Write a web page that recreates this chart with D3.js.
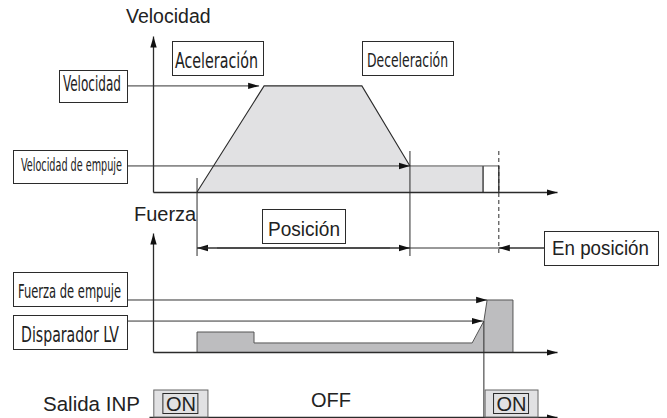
<!DOCTYPE html>
<html>
<head>
<meta charset="utf-8">
<script src="https://cdn.jsdelivr.net/npm/d3@7"></script>
<style>
  body { margin: 0; background: #fff; }
  svg text { font-family: "Liberation Sans", Arial, sans-serif; fill: #222; }
  svg text.cond { font-family: "Liberation Sans Narrow", "DejaVu Sans Condensed", "Liberation Sans", sans-serif; }
</style>
</head>
<body>
<svg id="chart" width="667" height="418"></svg>
<script>
// time axis in arbitrary units (0..100), speed / force in % of full scale

// speed profile: accelerate, run, decelerate, push at constant speed
const speedTimes = [10.9, 27.5, 51.7, 63.6, 81.7, 81.7];
const speedValues = [0, 68, 68, 16.7, 16.7, 0];
const maxSpeed = 68;
const pushSpeed = 16.7;

// force during the move and the push
const forceTimes = [10.9, 10.9, 25, 25, 79, 81.9, 82.7, 89.1, 89.1];
const forceValues = [0, 16.8, 16.8, 7.6, 7.6, 26, 43.7, 43.7, 0];
const pushForce = 43.7;
const lvTrigger = 26;

// events on the time axis
const moveStart = 10.9;
const decelEnd = 63.6;
const pushEnd = 81.7;
const inPosTime = 85.6;
const triggerTime = 81.9;

// INP output
const inpOn = [[0.2, 13.6], [82.2, 95.3]];
const inpOffLabel = 'OFF';

const svg = d3.select('#chart');
const ink = '#2b2b2b';

const x = d3.scaleLinear().domain([0, 100]).range([153, 557]);
const yV = d3.scaleLinear().domain([0, 100]).range([192, 36]);
const yF = d3.scaleLinear().domain([0, 100]).range([352, 233]);
const yInp = 417;

// arrow head
const defs = svg.append('defs');
defs.append('marker')
  .attr('id', 'arrow')
  .attr('markerUnits', 'userSpaceOnUse')
  .attr('markerWidth', 12)
  .attr('markerHeight', 8)
  .attr('refX', 11)
  .attr('refY', 4)
  .attr('orient', 'auto')
  .append('path')
  .attr('d', 'M0,0.8L11,4L0,7.2Z')
  .attr('fill', '#111');

const line = d3.line();

// ---- filled profiles (drawn first so lines sit on top)
const speedPts = speedTimes.map((t, i) => [x(t), yV(speedValues[i])]);
svg.append('path')
  .attr('d', line(speedPts) + 'Z')
  .attr('fill', '#e1e1e3')
  .attr('stroke', 'none');
// outline of the trapezoid (left, top, right edges)
svg.append('path')
  .attr('d', line(speedPts.slice(0, 4)))
  .attr('fill', 'none')
  .attr('stroke', ink)
  .attr('stroke-width', 1.1);
// end of push + in-position box
svg.append('line')
  .attr('x1', x(pushEnd)).attr('x2', x(pushEnd))
  .attr('y1', yV(pushSpeed)).attr('y2', yV(0))
  .attr('stroke', ink).attr('stroke-width', 1.3);
svg.append('line')
  .attr('x1', x(decelEnd)).attr('x2', x(inPosTime))
  .attr('y1', yV(pushSpeed)).attr('y2', yV(pushSpeed))
  .attr('stroke', '#555').attr('stroke-width', 1);
svg.append('line')
  .attr('x1', x(inPosTime)).attr('x2', x(inPosTime))
  .attr('y1', yV(pushSpeed)).attr('y2', yV(0))
  .attr('stroke', ink).attr('stroke-width', 1.3);

const forcePts = forceTimes.map((t, i) => [x(t), yF(forceValues[i])]);
svg.append('path')
  .attr('d', line(forcePts))
  .attr('fill', '#bdbdbf')
  .attr('stroke', '#555')
  .attr('stroke-width', 1);

// ---- axes (no ticks, arrow at the end)
function drawAxis(axis, tx, ty) {
  const g = svg.append('g')
    .attr('transform', `translate(${tx},${ty})`)
    .call(axis.tickValues([]).tickSizeOuter(0));
  g.select('.domain')
    .attr('stroke', ink)
    .attr('stroke-width', 1.3)
    .attr('marker-end', 'url(#arrow)');
}
drawAxis(d3.axisLeft(yV), x(0), 0);
drawAxis(d3.axisBottom(x), 0, yV(0));
drawAxis(d3.axisLeft(yF), x(0), 0);
drawAxis(d3.axisBottom(x), 0, yF(0));
drawAxis(d3.axisBottom(x.copy().domain([-1, 100]).range([x(-1), 557])), 0, yInp);

// ---- event lines
function vline(t, y1, y2, dash) {
  svg.append('line')
    .attr('x1', x(t)).attr('x2', x(t))
    .attr('y1', y1).attr('y2', y2)
    .attr('stroke', ink)
    .attr('stroke-width', 1)
    .attr('stroke-dasharray', dash || null);
}
vline(moveStart, 178, 256);
vline(decelEnd, 151, 256);
vline(inPosTime, 151, 256, '4,3');
vline(triggerTime, yF(lvTrigger), yInp);

// ---- label boxes
function box(x0, y0, w, h, label, tx, ty, tw, cls, size) {
  svg.append('rect')
    .attr('x', x0 + 0.5).attr('y', y0 + 0.5)
    .attr('width', w).attr('height', h)
    .attr('fill', '#fff')
    .attr('stroke', ink)
    .attr('stroke-width', 1);
  svg.append('text')
    .attr('class', cls)
    .attr('x', tx).attr('y', ty)
    .attr('font-size', size)
    .attr('textLength', tw)
    .attr('lengthAdjust', 'spacingAndGlyphs')
    .text(label);
}

function arrow(x1, x2, y) {
  svg.append('line')
    .attr('x1', x1).attr('x2', x2)
    .attr('y1', y).attr('y2', y)
    .attr('stroke', '#333')
    .attr('stroke-width', 1)
    .attr('marker-end', 'url(#arrow)');
}

// speed chart
arrow(127, x(27.5) - 5, yV(maxSpeed));
arrow(127, x(decelEnd), yV(pushSpeed));
box(172, 41, 91, 34, 'Aceleración', 175, 67.5, 83, 'cond', 20.5);
box(362, 41, 91, 34, 'Deceleración', 367, 67, 81, 'cond', 20);
box(59, 70, 68, 32, 'Velocidad', 63, 91, 58, 'cond', 20.5);
box(13, 150, 114, 33, 'Velocidad de empuje', 21, 171, 101, 'cond', 18.5);

// position dimension
const yDim = 248;
arrow(x(decelEnd) - 20, x(moveStart), yDim);
svg.append('line')
  .attr('x1', x(moveStart)).attr('x2', 544)
  .attr('y1', yDim).attr('y2', yDim)
  .attr('stroke', '#333').attr('stroke-width', 1);
arrow(x(moveStart) + 20, x(decelEnd), yDim);
arrow(544, x(inPosTime), yDim);
box(262, 209, 83, 34, 'Posición', 268, 236, 72, null, 19.5);
box(544, 231, 114, 34, 'En posición', 552, 255, 97, null, 19.5);

// force chart
arrow(127, x(82.7), yF(pushForce));
arrow(127, x(triggerTime) - 1, yF(lvTrigger));
box(13, 272, 114, 34, 'Fuerza de empuje', 18, 297.5, 103, 'cond', 19.5);
box(13, 315, 114, 34, 'Disparador LV', 21, 341.5, 98, 'cond', 20.5);

// INP output
inpOn.forEach(([t0, t1]) => {
  const x0 = x(t0), x1 = x(t1);
  svg.append('rect')
    .attr('x', x0).attr('y', 390)
    .attr('width', x1 - x0).attr('height', yInp - 390)
    .attr('fill', '#e1e1e3')
    .attr('stroke', '#666')
    .attr('stroke-width', 1);
  const cx = (x0 + x1) / 2;
  svg.append('rect')
    .attr('x', cx - 18).attr('y', 393.5)
    .attr('width', 35).attr('height', 20)
    .attr('fill', '#e1e1e3')
    .attr('stroke', ink)
    .attr('stroke-width', 1);
  svg.append('text')
    .attr('x', cx).attr('y', 411)
    .attr('text-anchor', 'middle')
    .attr('font-size', 20)
    .text('ON');
});
svg.append('text')
  .attr('x', 331).attr('y', 407)
  .attr('text-anchor', 'middle')
  .attr('font-size', 20)
  .text(inpOffLabel);

// titles
svg.append('text')
  .attr('x', 126).attr('y', 23)
  .attr('font-size', 19.5)
  .text('Velocidad');
svg.append('text')
  .attr('x', 134).attr('y', 221)
  .attr('font-size', 20)
  .text('Fuerza');
svg.append('text')
  .attr('x', 43).attr('y', 411)
  .attr('font-size', 20.5)
  .text('Salida INP');
</script>
</body>
</html>
